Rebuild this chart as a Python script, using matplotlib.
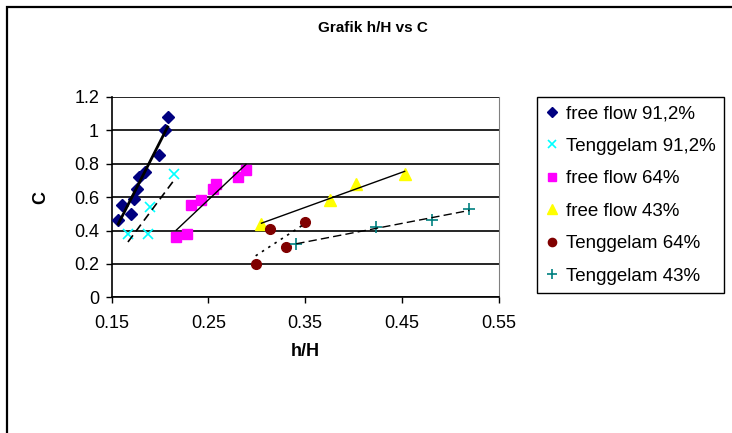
import numpy as np
import matplotlib
matplotlib.use("Agg")
import matplotlib.pyplot as plt
from matplotlib.patches import Rectangle

# Data (h/H, C)
ff912_x = [0.157, 0.161, 0.170, 0.173, 0.176, 0.178, 0.185, 0.199, 0.205, 0.208]
ff912_y = [0.46, 0.55, 0.50, 0.59, 0.65, 0.72, 0.75, 0.85, 1.00, 1.08]

tg912_x = [0.167, 0.188, 0.190, 0.215]
tg912_y = [0.38, 0.38, 0.54, 0.74]

ff64_x = [0.217, 0.228, 0.232, 0.243, 0.255, 0.258, 0.281, 0.289]
ff64_y = [0.36, 0.38, 0.55, 0.58, 0.65, 0.68, 0.72, 0.76]

ff43_x = [0.305, 0.376, 0.403, 0.453]
ff43_y = [0.44, 0.58, 0.68, 0.74]

tg64_x = [0.299, 0.314, 0.330, 0.350]
tg64_y = [0.20, 0.41, 0.30, 0.45]

tg43_x = [0.341, 0.423, 0.481, 0.520]
tg43_y = [0.32, 0.42, 0.46, 0.53]

X_TICKS = [0.15, 0.25, 0.35, 0.45, 0.55]
Y_TICKS = [0, 0.2, 0.4, 0.6, 0.8, 1, 1.2]
Y_LABELS = ["0", "0.2", "0.4", "0.6", "0.8", "1", "1.2"]

plt.rcParams.update({
    "font.family": "Liberation Sans",
    "font.size": 12,
})

fig = plt.figure(figsize=(7.32, 4.33), dpi=100)
ax = fig.add_axes([111.5 / 732, 1 - 297.3 / 433, 387 / 732, 200.4 / 433])

# series: (x, y, label, marker, color, size, trend style, trend width)
series = [
    (ff912_x, ff912_y, "free flow 91,2%", "D", "#000080", 6, "-", 2.0),
    (tg912_x, tg912_y, "Tenggelam 91,2%", "x", "#00FFFF", 7, (0, (5, 3)), 1.2),
    (ff64_x, ff64_y, "free flow 64%", "s", "#FF00FF", 7, "-", 1.0),
    (ff43_x, ff43_y, "free flow 43%", "^", "#FFFF00", 8, "-", 1.0),
    (tg64_x, tg64_y, "Tenggelam 64%", "o", "#800000", 7, (0, (1.5, 3)), 1.2),
    (tg43_x, tg43_y, "Tenggelam 43%", "+", "#008080", 8, (0, (6, 3)), 1.0),
]

for x, y, lab, mk, col, ms, ls, lw in series:
    x = np.array(x); y = np.array(y)
    if mk in ("x", "+"):
        ax.plot(x, y, ls="none", marker=mk, color=col, ms=ms, mew=1.2,
                label=lab, zorder=3)
    else:
        ax.plot(x, y, ls="none", marker=mk, color=col, mec=col, ms=ms,
                label=lab, zorder=3)
    # linear trendline across the data range
    k, b = np.polyfit(x, y, 1)
    xs = np.array([x.min(), x.max()])
    ax.plot(xs, k * xs + b, color="black", ls=ls, lw=lw, zorder=4)

ax.set_xlim(0.15, 0.55)
ax.set_ylim(0, 1.2)
ax.set_xticks(X_TICKS)
ax.set_xticklabels([f"{t:.2f}" for t in X_TICKS])
ax.set_yticks(Y_TICKS)
ax.set_yticklabels(Y_LABELS)
ax.tick_params(direction="out", length=4, width=1, labelsize=13)
ax.tick_params(axis="x", pad=9)
ax.tick_params(axis="y", pad=5)
ax.yaxis.grid(True, color="black", lw=1.2)
ax.set_axisbelow(True)
ax.spines["top"].set_visible(False)
ax.spines["right"].set_color("#808080")
ax.spines["left"].set_linewidth(1.2)
ax.spines["bottom"].set_linewidth(1.2)

ax.set_xlabel("h/H", fontweight="bold", fontsize=13, labelpad=8)
ax.set_ylabel("C", fontweight="bold", fontsize=13, labelpad=18)
fig.text(373 / 732, 1 - 28 / 433, "Grafik h/H vs C", ha="center", va="center",
         fontweight="bold", fontsize=11)

leg = ax.legend(loc="upper left", bbox_to_anchor=(537 / 732, 1 - 96.7 / 433),
                bbox_transform=fig.transFigure, borderaxespad=0,
                fancybox=False, edgecolor="black", framealpha=1,
                handlelength=0.7, handletextpad=0.4, labelspacing=0.82,
                borderpad=0.45, fontsize=13.5, markerscale=0.85)
leg.get_frame().set_linewidth(1.0)

# outer chart border
fig.patches.append(Rectangle((7 / 732, -0.2), 1.2, 1.2 - 6.5 / 433,
                             transform=fig.transFigure, fill=False,
                             edgecolor="black", lw=1.6, clip_on=False))

fig.savefig("out.png", dpi=100)
